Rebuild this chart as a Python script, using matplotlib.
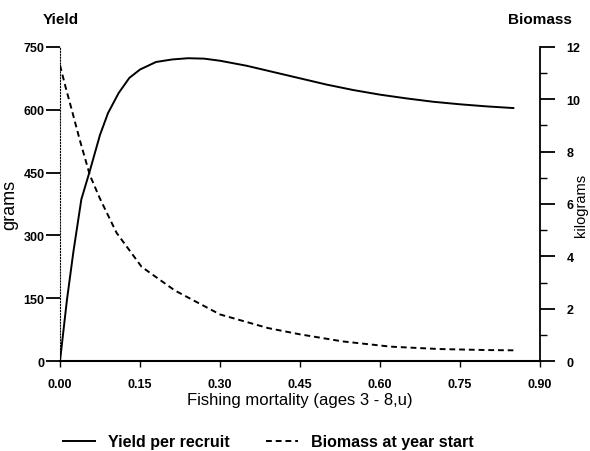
import numpy as np
import matplotlib.pyplot as plt

plt.rcParams['font.family'] = ['Liberation Sans', 'DejaVu Sans']

# yield per recruit (grams) vs fishing mortality
f_yield = [0.0, 0.013, 0.025, 0.04, 0.055, 0.075, 0.09, 0.11, 0.13, 0.15, 0.18,
           0.21, 0.24, 0.27, 0.30, 0.35, 0.40, 0.45, 0.50, 0.55, 0.60, 0.65,
           0.70, 0.75, 0.80, 0.85]
yield_g = [0, 146, 260, 386, 450, 540, 592, 640, 676, 696, 714,
           720, 723, 722, 717, 705, 690, 675, 660, 647, 636, 627,
           619, 613, 608, 604]

# biomass at year start (kilograms)
f_bio = [0.0, 0.01, 0.022, 0.037, 0.056, 0.075, 0.106, 0.153, 0.215, 0.30,
         0.39, 0.45, 0.53, 0.62, 0.71, 0.80, 0.85]
biomass_kg = [11.3, 10.5, 9.6, 8.45, 7.1, 6.2, 4.9, 3.6, 2.7, 1.78,
              1.26, 1.02, 0.75, 0.55, 0.46, 0.42, 0.41]

x_ticks = [0.0, 0.15, 0.30, 0.45, 0.60, 0.75, 0.90]
g_ticks = [0, 150, 300, 450, 600, 750]
kg_ticks = [0, 2, 4, 6, 8, 10, 12]

fig = plt.figure(figsize=(5.9, 4.52), dpi=100)
ax = fig.add_axes([0.1017, 0.199, 0.8136, 0.695])
ax2 = ax.twinx()

l1, = ax.plot(f_yield, yield_g, '-', color='black', lw=1.4, label='Yield per recruit')
l2, = ax2.plot(f_bio, biomass_kg, color='black', lw=1.4, linestyle=(0, (3, 2)),
               label='Biomass at year start')

ax.set_xlim(0, 0.9)
ax.set_ylim(0, 750)
ax2.set_ylim(0, 12)

ax.set_xticks(x_ticks)
ax.set_xticklabels(['%.2f' % v for v in x_ticks])
ax.set_yticks(g_ticks)
ax2.set_yticks(kg_ticks)
ax2.set_yticks([1, 3, 5, 7, 9, 11], minor=True)

for a in (ax, ax2):
    a.spines['top'].set_visible(False)
ax.spines['right'].set_visible(False)
ax2.spines['left'].set_visible(False)
ax2.spines['bottom'].set_visible(False)
ax.spines['left'].set_linestyle(':')
ax.spines['left'].set_linewidth(0.8)
ax.spines['bottom'].set_linewidth(1.5)
ax2.spines['right'].set_linewidth(1.3)

ax.tick_params(axis='y', direction='out', length=10, width=1.3, labelsize=9, pad=1)
ax.tick_params(axis='x', direction='out', length=4, width=1.0, labelsize=9, pad=8)
ax2.tick_params(axis='y', which='major', direction='out', length=11, width=1.3,
                labelsize=9, pad=8)
ax2.tick_params(axis='y', which='minor', direction='out', length=5, width=1.0)
for lab in ax.get_xticklabels() + ax.get_yticklabels() + ax2.get_yticklabels():
    lab.set_fontweight('bold')

ax.set_xlabel('Fishing mortality (ages 3 - 8,u)', fontsize=12, labelpad=2)
ax.set_ylabel('grams', fontsize=13, labelpad=4)
fig.text(0.984, 0.545, 'kilograms', fontsize=10.5, rotation=90,
         ha='center', va='center')

fig.text(0.073, 0.956, 'Yield', fontsize=11, fontweight='bold', va='center')
fig.text(0.861, 0.956, 'Biomass', fontsize=11, fontweight='bold', va='center')

fig.legend(handles=[l1, l2], loc='center', bbox_to_anchor=(0.455, 0.02), ncol=2,
           frameon=False, prop={'size': 11.5, 'weight': 'bold'},
           handlelength=2, handletextpad=0.8, columnspacing=2.3)

fig.savefig('out.png', dpi=100)
